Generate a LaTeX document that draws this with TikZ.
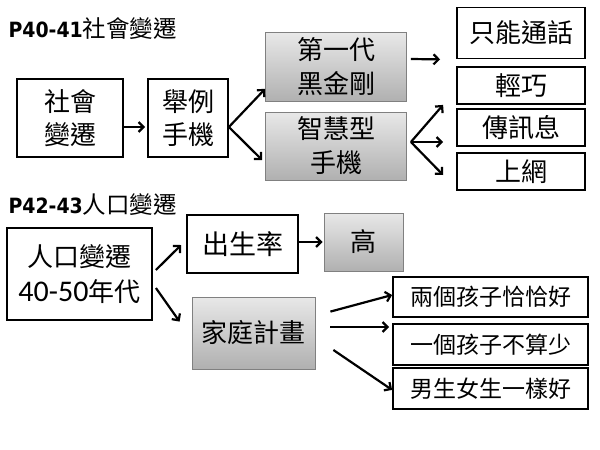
\documentclass[tikz,border=0pt]{standalone}
\usepackage{fontspec}
\setmainfont{Noto Sans CJK TC}
\newfontfamily\titlefont{DejaVu Sans Condensed Bold}
\newfontfamily\numfont{Carlito}
\usepackage{tikz}
\usetikzlibrary{arrows.meta,positioning}

\tikzset{
  box/.style={draw,line width=1.8pt,align=center,inner sep=0pt,font=\fontsize{26}{33}\selectfont},
  greybox/.style={draw=gray,line width=0.8pt,top color=gray!18,bottom color=gray!62,
    align=center,inner sep=0pt,font=\fontsize{26}{34}\selectfont},
  arr/.style={->,line width=2.2pt},
  >={Straight Barb[length=5pt,width=10pt,line width=2.2pt]}
}

\begin{document}
\begin{tikzpicture}[x=1pt,y=-1pt]
    \useasboundingbox (0,0) rectangle (600,450);
    % first part
    \node[anchor=west,font=\fontsize{23.5}{23.5}\selectfont] (title1) at (5,29) {{\titlefont\fontsize{21}{21}\selectfont P40-41}社會變遷};
    \node[box,minimum width=106,minimum height=78] (social) at (70,118) {社會\\變遷};
    \node[box,minimum width=80,minimum height=78] (example) at (188,118) {舉例\\手機};
    \node[greybox,minimum width=141,minimum height=69] (dajingang) at (336,67) {第一代\\黑金剛};
    \node[greybox,minimum width=141,minimum height=68] (smart) at (336,146) {智慧型\\手機};
    \node[box,minimum width=128,minimum height=51] (call) at (521,33) {只能通話};
    \node[box,minimum width=128,minimum height=37] (light) at (521,85.5) {輕巧};
    \node[box,minimum width=128,minimum height=37] (message) at (521,127.5) {傳訊息};
    \node[box,minimum width=128,minimum height=37] (web) at (521,171.5) {上網};
    \path
    ([yshift=-9pt]social.east) coordinate (s1)
    ([yshift=-9pt]example.east) coordinate (e1)
    ([xshift=4pt,yshift=8pt]dajingang.east) coordinate (d1)
    ([xshift=4pt,yshift=4pt]smart.east) coordinate (m1);
    \draw[arr] (s1) -- ([yshift=-9pt,xshift=-2pt]example.west);
    \draw[arr] (e1) -- ([yshift=13pt]dajingang.south west);
    \draw[arr] (e1) -- ([xshift=-3pt,yshift=-14pt]smart.west);
    \draw[arr] (d1) -- ([xshift=-16pt]call.south west);
    \draw[arr] (m1) -- ([xshift=-13pt]light.south west);
    \draw[arr] (m1) -- ([xshift=-13pt,yshift=-14.5pt]message.west);
    \draw[arr] (m1) -- ([xshift=-13pt,yshift=-3.5pt]web.west);
    % second part
    \node[anchor=west,font=\fontsize{23.5}{23.5}\selectfont] (title2) at (5,205) {{\titlefont\fontsize{21}{21}\selectfont P42-43}人口變遷};
    \node[box,minimum width=145,minimum height=92,font=\fontsize{26}{35}\selectfont] (population) at (79.5,274) {人口變遷\\{\numfont\fontsize{30}{35}\selectfont 40-50}年代};
    \node[box,minimum width=111,minimum height=58,font=\fontsize{27}{33}\selectfont] (birth) at (242.5,244) {出生率};
    \node[greybox,minimum width=79,minimum height=58] (high) at (363.5,242) {高};
    \node[greybox,minimum width=123,minimum height=72] (family) at (253.5,333) {家庭計畫};
    \node[box,minimum width=195,minimum height=40,font=\fontsize{23}{26}\selectfont] (two) at (490.5,297) {兩個孩子恰恰好};
    \node[box,minimum width=195,minimum height=41,font=\fontsize{23}{26}\selectfont] (one) at (490.5,344.5) {一個孩子不算少};
    \node[box,minimum width=195,minimum height=41,font=\fontsize{23}{26}\selectfont] (boygirl) at (490.5,388.5) {男生女生一樣好};
    \draw[arr] ([xshift=3pt,yshift=4pt]population.east) -- ([xshift=-5pt,yshift=-1pt]birth.west);
    \draw[arr] ([xshift=3pt,yshift=-14pt]population.east) -- ([xshift=-12pt,yshift=-25pt]family.north west);
    \draw[arr] ([yshift=2pt]birth.east) -- ([xshift=-1pt]high.west);
    \draw[arr] ([xshift=15pt,yshift=-15pt]family.north east) -- ([yshift=2pt]two.west);
    \draw[arr] ([xshift=15pt,yshift=6pt]family.east) -- ([xshift=-3pt,yshift=17.5pt]one.west);
    \draw[arr] ([xshift=18pt,yshift=-17pt]family.east) -- ([yshift=20pt]boygirl.south west);
\end{tikzpicture}
\end{document}
